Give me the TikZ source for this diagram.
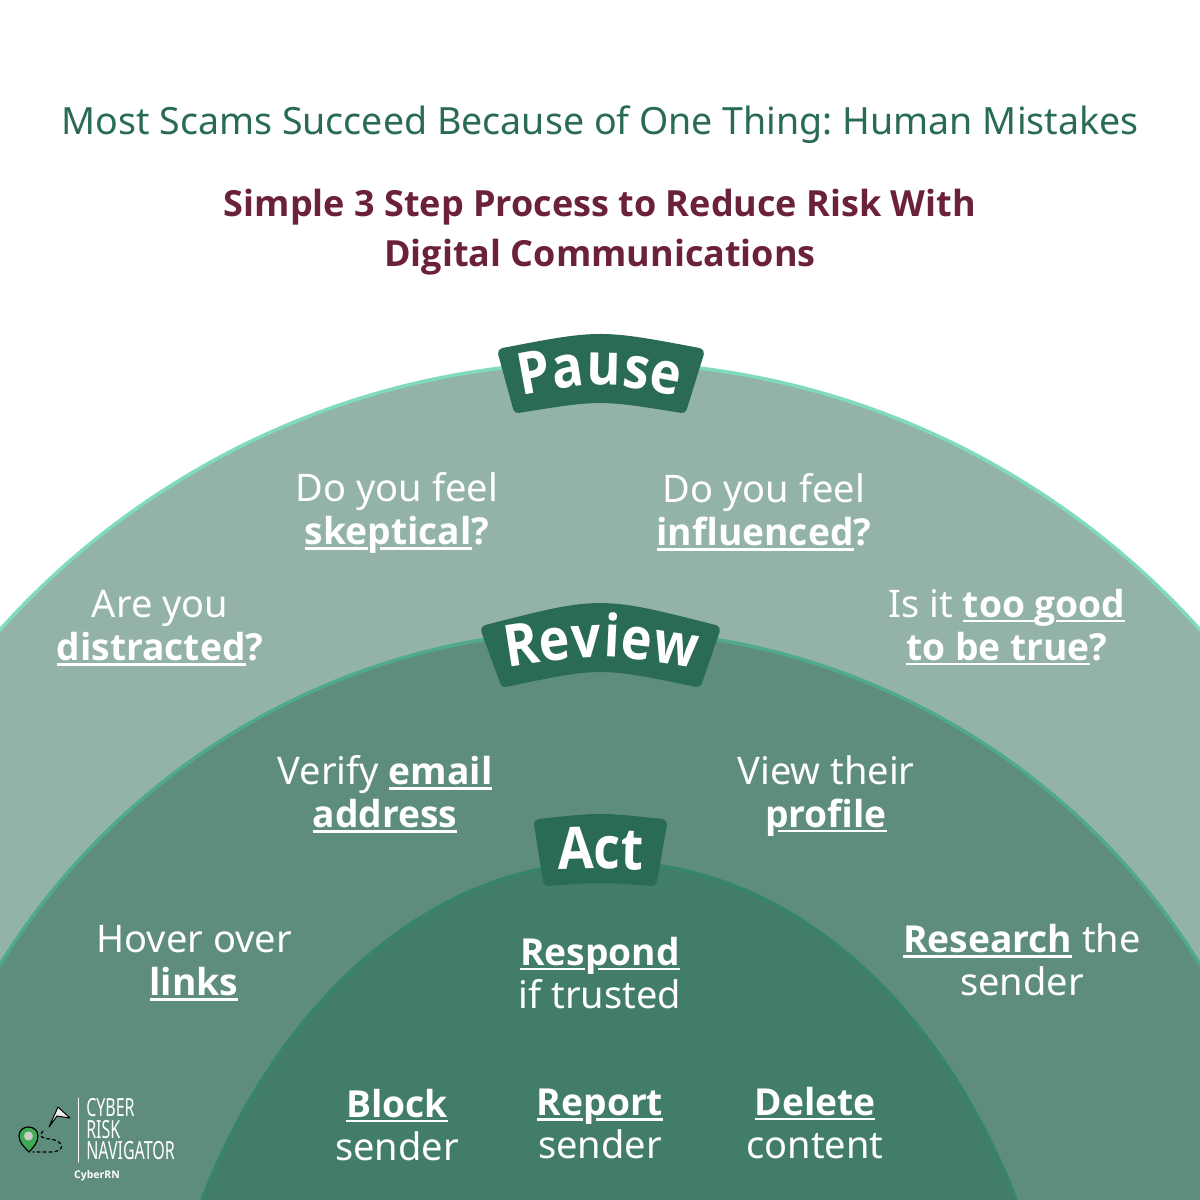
\documentclass[tikz,border=0pt]{standalone}
\usepackage{fontspec}
\setmainfont{Noto Sans}
\newfontfamily\boldfam{Open Sans}
\newcommand{\bft}{\boldfam\bfseries}
\newcommand{\bfb}{\fontsize{37.2}{43}\selectfont\bft}
\usetikzlibrary{decorations.text}
\definecolor{titlegreen}{HTML}{2A6B56}
\definecolor{titlered}{HTML}{6B2139}
\definecolor{pausefill}{HTML}{93B3A8}
\definecolor{pauseline}{HTML}{7FDBBB}
\definecolor{reviewfill}{HTML}{5F8D7D}
\definecolor{reviewline}{HTML}{4FA98B}
\definecolor{actfill}{HTML}{427D68}
\definecolor{actline}{HTML}{378569}
\definecolor{pingreen}{HTML}{3DAA55}
\newlength\ulwd
\newcommand{\ulw}[1]{\settowidth{\ulwd}{\bfb #1}\rlap{\rule[-5pt]{\ulwd}{2.6pt}}{\bfb #1}}
\newcommand{\ulgap}[1]{\settowidth{\ulwd}{\bfb #1}\rlap{\hspace{.34em}\rule[-5pt]{\dimexpr\ulwd-.34em}{2.6pt}}{\bfb #1}}
\tikzset{
  bodytext/.style={text=white,align=center,font=\fontsize{38}{43}\selectfont},
  logotext/.style={text=white,anchor=west,xscale=.64,transform shape,font=\fontsize{25}{25}\selectfont},
  ring/.style={line width=3.5pt},
  banner/.style={fill=titlegreen,draw=titlegreen,line width=10pt,line join=round},
  bannertext/.style={decorate,decoration={text along path,text align={fit to path},text color=white,transform={yscale=1.12},text={#1}}}
}
\begin{document}
\frenchspacing
\begin{tikzpicture}[x=1pt,y=-1pt,line cap=round,line join=round]
\useasboundingbox (0,0) rectangle (1200,1200);
\clip (0,0) rectangle (1200,1200);
\fill [white] (0,0) rectangle (1200,1200);
% half rings
\draw [ring,fill=pausefill,draw=pauseline] (600,1168) circle (806);
\draw [ring,fill=reviewfill,draw=reviewline] (600,1335) circle (705);
\draw [ring,fill=actfill,draw=actline] (609,1500) ellipse [x radius=461,y radius=638];
% banners
\draw [banner] (503,353) .. controls (600,334.3) .. (699,353) -- (682,408) .. controls (600,394.7) .. (518,408) -- cycle;
\draw [banner] (486,630) .. controls (600,600.7) .. (715,630) -- (697,682) .. controls (600,662) .. (505,682) -- cycle;
\draw [banner] (539,824) .. controls (600,817.3) .. (662,824) -- (652,881) .. controls (600,877) .. (548,881) -- cycle;
\path [bannertext={|\fontsize{52}{52}\selectfont\bft|Pause}] (521,396) .. controls (600,381.3) .. (678,396);
\path [bannertext={|\fontsize{52}{52}\selectfont\bft|Review}] (507,668) .. controls (600,653.3) .. (695,668);
\path [bannertext={|\fontsize{52}{52}\selectfont\bft|Act}] (558,870) .. controls (600,868.7) .. (643,870);
% titles
\node (title) [text=titlegreen,font=\fontsize{37.55}{43}\selectfont] at (600,125) {Most Scams Succeed Because of One Thing: Human Mistakes};
\node (subtitle) [text=titlered,align=center,font=\fontsize{36}{50}\selectfont\bft] at (600,232) {Simple 3 Step Process to Reduce Risk With\\Digital Communications};
% pause
\node (skeptical) [bodytext] at (397,513) {Do you feel\\\ulw{ske}\ulgap{p}\ulw{tical}{\bfb ?}};
\node (influenced) [bodytext] at (764,512) {Do you feel\\\ulw{influenced}{\bfb ?}};
\node (distracted) [bodytext] at (160,628) {Are you\\\ulw{distracted}{\bfb ?}};
\node (toogood) [bodytext] at (1007,627) {Is it \ulw{too\ }{\bfb g}\ulw{ood}\\\ulw{to be true}{\bfb ?}};
% review
\node (email) [bodytext] at (385,794) {Verify \ulw{email}\\\ulw{address}};
\node (profile) [bodytext] at (826,796) {View their\\\ulgap{p}\ulw{rofile}};
\node (links) [bodytext] at (194,963) {Hover over\\\ulw{links}};
\node (research) [bodytext] at (1022,960) {\ulw{Research} the\\sender};
% act
\node (respond) [bodytext] at (600,973) {\ulw{Res}\ulgap{p}\ulw{ond}\\if trusted};
\node (block) [bodytext] at (397,1125) {\ulw{Block}\\sender};
\node (report) [bodytext] at (600,1124) {\ulw{Re}\ulgap{p}\ulw{ort}\\sender};
\node (delete) [bodytext] at (815,1123) {\ulw{Delete}\\content};
% logo
\draw [white,line width=1pt] (78.5,1098)--(78.5,1162);
\node (cyber) [logotext] at (84,1108) {CYBER};
\node (risk) [logotext] at (84,1130) {RISK};
\node (navigator) [logotext] at (84,1151) {NAVIGATOR};
\node (cyberrn) [text=white,font=\fontsize{10.5}{11}\selectfont\bft] at (97,1176) {CyberRN};
\draw [black,dashed,line width=1.2pt] (43,1131) .. controls (38,1137) and (42,1138) .. (50,1139) .. controls (65,1141) and (66,1152) .. (50,1152) -- (33,1152);
\draw [fill=white!85!gray,draw=black,line width=1pt] (58,1107)--(70,1118)--(57,1116)--(49,1127)--cycle;
\draw [fill=pingreen,draw=black,line width=1.2pt] (29,1152) .. controls (24,1147) and (19,1142) .. (19,1136) .. controls (19,1124) and (38,1124) .. (38,1136) .. controls (38,1142) and (34,1147) .. (29,1152) -- cycle;
\fill [gray!40] (28.5,1136) circle (4.5);
\end{tikzpicture}
\end{document}
